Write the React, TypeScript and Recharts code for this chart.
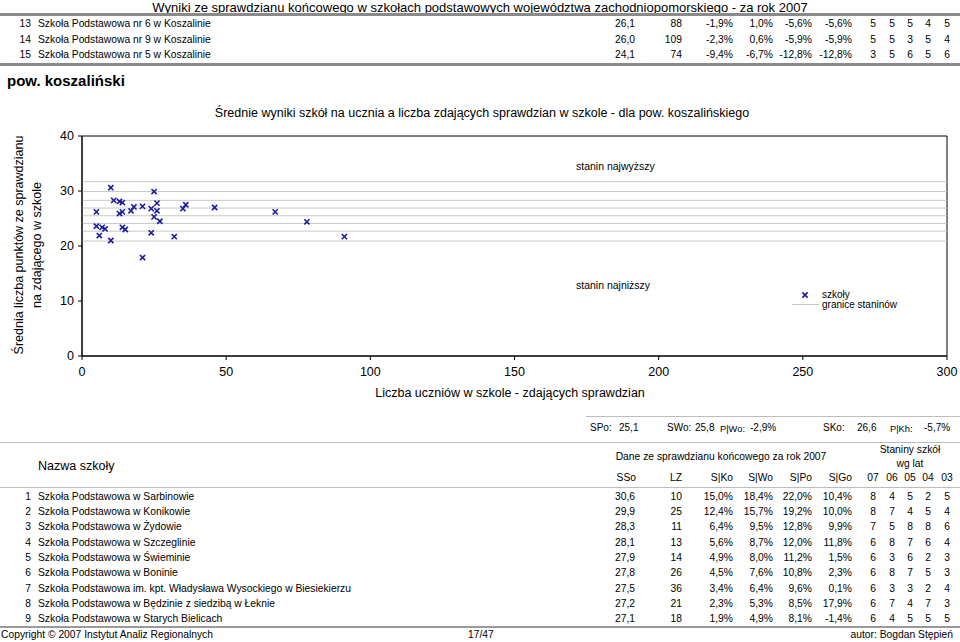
import { ScatterChart, Scatter, XAxis, YAxis, ReferenceLine, ReferenceArea } from 'recharts';

const FONT = 'Arial, "Liberation Sans", Helvetica, sans-serif';

// liczba zdających (LZ) i średni wynik szkoły (SSo) - punkty wykresu
const pupils = [10, 25, 11, 13, 14, 26, 36, 21, 18, 35, 46, 67, 78, 91, 5, 5, 7, 8, 6, 10, 14, 15, 13, 14, 17, 24, 26, 25, 27, 24, 32, 21];
const scores = [30.6, 29.9, 28.3, 28.1, 27.9, 27.8, 27.5, 27.2, 27.1, 26.8, 27.0, 26.2, 24.4, 21.7, 26.2, 23.6, 23.4, 23.1, 21.9, 21.0, 23.4, 23.0, 25.9, 26.2, 26.4, 26.8, 26.4, 25.3, 24.5, 22.4, 21.7, 17.9];
// granice staninów
const staninBounds = [20.9, 22.7, 24.1, 25.5, 26.9, 28.3, 29.9, 31.7];
const xTicks = [0, 50, 100, 150, 200, 250, 300];
const yTicks = [0, 10, 20, 30, 40];

// końcówka tabeli poprzedniego powiatu
const prevRows = [
  ['13', 'Szkoła Podstawowa nr 6 w Koszalinie', '26,1', '88', '-1,9%', '1,0%', '-5,6%', '-5,6%', '5', '5', '5', '4', '5'],
  ['14', 'Szkoła Podstawowa nr 9 w Koszalinie', '26,0', '109', '-2,3%', '0,6%', '-5,9%', '-5,9%', '5', '5', '3', '5', '4'],
  ['15', 'Szkoła Podstawowa nr 5 w Koszalinie', '24,1', '74', '-9,4%', '-6,7%', '-12,8%', '-12,8%', '3', '5', '6', '5', '6'],
];

const schoolRows = [
  ['1', 'Szkoła Podstawowa w Sarbinowie', '30,6', '10', '15,0%', '18,4%', '22,0%', '10,4%', '8', '4', '5', '2', '5'],
  ['2', 'Szkoła Podstawowa w Konikowie', '29,9', '25', '12,4%', '15,7%', '19,2%', '10,0%', '8', '7', '4', '5', '4'],
  ['3', 'Szkoła Podstawowa w Żydowie', '28,3', '11', '6,4%', '9,5%', '12,8%', '9,9%', '7', '5', '8', '8', '6'],
  ['4', 'Szkoła Podstawowa w Szczeglinie', '28,1', '13', '5,6%', '8,7%', '12,0%', '11,8%', '6', '8', '7', '6', '4'],
  ['5', 'Szkoła Podstawowa w Świeminie', '27,9', '14', '4,9%', '8,0%', '11,2%', '1,5%', '6', '3', '6', '2', '3'],
  ['6', 'Szkoła Podstawowa w Boninie', '27,8', '26', '4,5%', '7,6%', '10,8%', '2,3%', '6', '8', '7', '5', '3'],
  ['7', 'Szkoła Podstawowa im. kpt. Władysława Wysockiego w Biesiekierzu', '27,5', '36', '3,4%', '6,4%', '9,6%', '0,1%', '6', '3', '3', '2', '4'],
  ['8', 'Szkoła Podstawowa w Będzinie z siedzibą w Łeknie', '27,2', '21', '2,3%', '5,3%', '8,5%', '17,9%', '6', '7', '4', '7', '3'],
  ['9', 'Szkoła Podstawowa w Starych Bielicach', '27,1', '18', '1,9%', '4,9%', '8,1%', '-1,4%', '6', '4', '5', '5', '5'],
];

const colHeaders = ['SSo', 'LZ', 'S|Ko', 'S|Wo', 'S|Po', 'S|Go'];
const yearHeaders = ['07', '06', '05', '04', '03'];

// podsumowanie powiatu
const statLabels = ['SPo:', 'SWo:', 'P|Wo:', 'SKo:', 'P|Kh:'];
const statValues = ['25,1', '25,8', '-2,9%', '26,6', '-5,7%'];
const statLabelX = [590, 667, 720, 823, 890];
const statValueX = [619, 695, 750, 857, 924];

const numRight = [635, 682, 733, 773, 812, 852];
const staninX = [873, 892, 910, 928, 947];

const points = pupils.map((x, i) => ({ x, y: scores[i] }));

function Txt({ x, y, size = 10.3, align = 'left', weight, children }: any) {
  const tx = align === 'left' ? '0' : align === 'right' ? '-100%' : '-50%';
  return (
    <div
      style={{
        position: 'absolute',
        left: x,
        top: y,
        transform: `translate(${tx},-50%)`,
        fontSize: size,
        lineHeight: 1,
        whiteSpace: 'nowrap',
        fontWeight: weight,
      }}
    >
      {children}
    </div>
  );
}

function HLine({ x1 = 0, x2 = 960, y, h = 1, color = '#bdbdbd' }: any) {
  return <div style={{ position: 'absolute', left: x1, top: y, width: x2 - x1, height: h, background: color }} />;
}

function XMark(props: any) {
  const { cx, cy } = props;
  const d = 2.6;
  return (
    <path
      d={`M${cx - d},${cy - d}L${cx + d},${cy + d}M${cx - d},${cy + d}L${cx + d},${cy - d}`}
      stroke="#1c1c9e"
      strokeWidth={1.6}
      fill="none"
    />
  );
}

function Row({ row, y }: { row: string[]; y: number }) {
  return (
    <>
      <Txt x={31} y={y} align="right">{row[0]}</Txt>
      <Txt x={38} y={y}>{row[1]}</Txt>
      {numRight.map((r, i) => (
        <Txt key={'n' + i} x={r} y={y} align="right">{row[2 + i]}</Txt>
      ))}
      {staninX.map((c, i) => (
        <Txt key={'s' + i} x={c} y={y} align="center">{row[8 + i]}</Txt>
      ))}
    </>
  );
}

export default function App() {
  return (
    <div
      style={{
        position: 'absolute',
        left: 0,
        top: 0,
        width: 960,
        height: 642,
        overflow: 'hidden',
        background: '#fff',
        fontFamily: FONT,
        color: '#000',
      }}
    >
      <Txt x={480} y={6.5} size={13} align="center">
        Wyniki ze sprawdzianu końcowego w szkołach podstawowych województwa zachodniopomorskiego - za rok 2007
      </Txt>
      <HLine y={13} h={3} color="#8a8a8a" />
      {prevRows.map((r, i) => (
        <Row key={r[0]} row={r} y={24 + i * 15.5} />
      ))}
      <HLine y={63} h={3} color="#8a8a8a" />

      <Txt x={7} y={80} size={15} weight="bold">pow. koszaliński</Txt>

      <Txt x={482} y={113} size={12.5} align="center">
        Średnie wyniki szkół na ucznia a liczba zdających sprawdzian w szkole - dla pow. koszalińskiego
      </Txt>

      <div style={{ position: 'absolute', left: 19, top: 245, transform: 'translate(-50%,-50%) rotate(-90deg)', fontSize: 12.5, lineHeight: 1, whiteSpace: 'nowrap' }}>
        Średnia liczba punktów ze sprawdzianu
      </div>
      <div style={{ position: 'absolute', left: 37, top: 245, transform: 'translate(-50%,-50%) rotate(-90deg)', fontSize: 12.5, lineHeight: 1, whiteSpace: 'nowrap' }}>
        na zdającego w szkole
      </div>

      <div style={{ position: 'absolute', left: 0, top: 96 }}>
        <ScatterChart width={960} height={290} margin={{ top: 40, right: 13, bottom: 0, left: 0 }}>
          <XAxis
            type="number"
            dataKey="x"
            domain={[0, 300]}
            ticks={xTicks}
            interval={0}
            height={30}
            tickSize={4}
            tickMargin={7}
            axisLine={{ stroke: '#000' }}
            tickLine={{ stroke: '#000' }}
            tick={{ fill: '#000', fontSize: 12.5, fontFamily: FONT }}
          />
          <YAxis
            type="number"
            dataKey="y"
            domain={[0, 40]}
            ticks={yTicks}
            interval={0}
            width={82}
            tickSize={4}
            tickMargin={4}
            axisLine={{ stroke: '#000' }}
            tickLine={{ stroke: '#000' }}
            tick={{ fill: '#000', fontSize: 12.5, fontFamily: FONT }}
          />
          <ReferenceArea x1={0} x2={300} y1={0} y2={40} fill="none" stroke="#000" strokeWidth={1} />
          {staninBounds.map((v) => (
            <ReferenceLine key={v} y={v} stroke="#c8c8c8" strokeWidth={1} />
          ))}
          <Scatter data={points} shape={XMark} isAnimationActive={false} />
        </ScatterChart>
      </div>

      <Txt x={576} y={166} size={10.5}>stanin najwyższy</Txt>
      <Txt x={576} y={285} size={10.5}>stanin najniższy</Txt>

      <svg style={{ position: 'absolute', left: 800, top: 289.5 }} width={10} height={10}>
        <XMark cx={5} cy={5} />
      </svg>
      <HLine x1={792} x2={819} y={304} color="#c8c8c8" />
      <Txt x={822} y={294.5} size={10}>szkoły</Txt>
      <Txt x={822} y={304.5} size={10}>granice staninów</Txt>

      <Txt x={510} y={393} size={12.5} align="center">Liczba uczniów w szkole - zdających sprawdzian</Txt>

      <HLine x1={586} y={416} />
      {statLabels.map((l, i) => (
        <Txt key={l} x={statLabelX[i]} y={l.startsWith('P|') ? 429.5 : 428} size={l.startsWith('P|') ? 9.3 : 10}>{l}</Txt>
      ))}
      {statValues.map((v, i) => (
        <Txt key={'v' + i} x={statValueX[i]} y={428} size={10}>{v}</Txt>
      ))}
      <HLine y={442} />

      <Txt x={38} y={466} size={12.5}>Nazwa szkoły</Txt>
      <Txt x={721} y={457} align="center">Dane ze sprawdzianu końcowego za rok 2007</Txt>
      <Txt x={910} y={450} align="center">Staniny szkół</Txt>
      <Txt x={910} y={464} align="center">wg lat</Txt>
      {colHeaders.map((h, i) => (
        <Txt key={h} x={numRight[i] + (i === 0 ? 1 : 0)} y={478} align="right">{h}</Txt>
      ))}
      {yearHeaders.map((h, i) => (
        <Txt key={h} x={staninX[i]} y={478} align="center">{h}</Txt>
      ))}
      <HLine y={487} />

      {schoolRows.map((r, i) => (
        <Row key={r[0]} row={r} y={496.5 + i * 15.35} />
      ))}

      <HLine y={626} h={2} color="#9a9a9a" />
      <Txt x={1} y={635}>Copyright © 2007 Instytut Analiz Regionalnych</Txt>
      <Txt x={468} y={635}>17/47</Txt>
      <Txt x={953} y={635} align="right">autor: Bogdan Stępień</Txt>
    </div>
  );
}
